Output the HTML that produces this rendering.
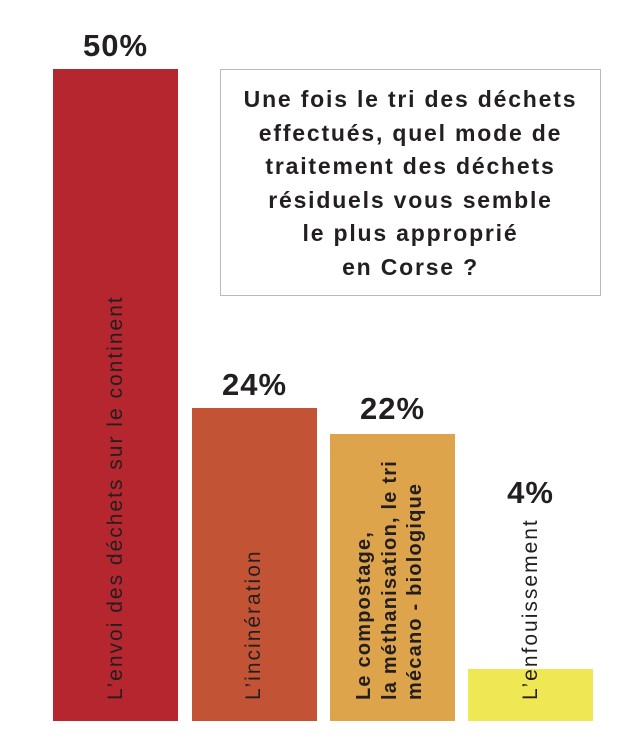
<!DOCTYPE html>
<html><head><meta charset="utf-8"><style>
body{margin:0;width:635px;height:756px;background:#fff;position:relative;overflow:hidden;font-family:"Liberation Sans","DejaVu Sans",sans-serif;color:#231f20}
.bar{position:absolute;bottom:35px;width:125px}
.pct{position:absolute;width:125px;text-align:center;font-weight:bold;font-size:31px;letter-spacing:1px}
.lab{position:absolute;transform:rotate(-90deg);transform-origin:0 0;white-space:nowrap;font-size:21px;letter-spacing:2px;line-height:24px}
.box{position:absolute;left:220px;top:69px;width:381px;height:227px;border:1.5px solid #bbb;box-sizing:border-box;text-align:center;font-weight:bold;font-size:23px;letter-spacing:1.8px;line-height:33.5px;padding-top:13px;white-space:nowrap}
</style></head><body>
<div class="bar" style="left:53px;top:69px;background:#b5262f"></div>
<div class="bar" style="left:192px;top:408px;background:#c35335"></div>
<div class="bar" style="left:330px;top:434px;background:#dea44c"></div>
<div class="bar" style="left:468px;top:669px;background:#efe854"></div>
<div class="pct" style="left:53px;top:28px">50%</div>
<div class="pct" style="left:192px;top:367px">24%</div>
<div class="pct" style="left:330px;top:391px">22%</div>
<div class="pct" style="left:468px;top:475px">4%</div>
<div class="lab" style="left:104px;top:700px">L’envoi des déchets sur le continent</div>
<div class="lab" style="left:242px;top:700px">L’incinération</div>
<div class="lab" style="left:352px;top:700px;font-weight:bold;font-size:20px;letter-spacing:1.2px;line-height:25.5px">Le compostage,<br>la méthanisation, le tri<br>mécano - biologique</div>
<div class="lab" style="left:519px;top:700px">L’enfouissement</div>
<div class="box">Une fois le tri des déchets<br>effectués, quel mode de<br>traitement des déchets<br>résiduels vous semble<br>le plus approprié<br>en Corse ?</div>
</body></html>
